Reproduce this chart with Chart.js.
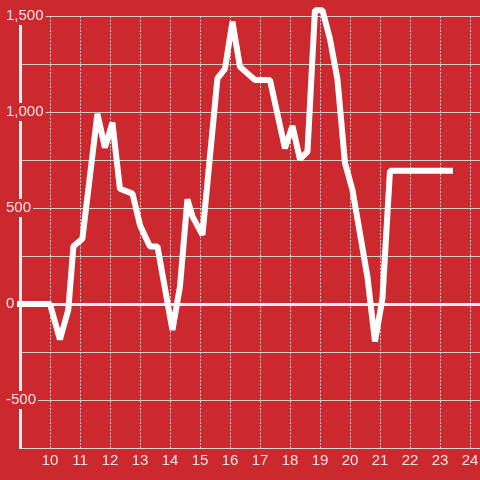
<!DOCTYPE html>
<html>
<head>
<meta charset="utf-8">
<script src="https://cdn.jsdelivr.net/npm/chart.js@4/dist/chart.umd.min.js"></script>
<style>
  html, body { margin: 0; padding: 0; background: #cc292e; }
  canvas { display: block; }
</style>
</head>
<body>
<canvas id="chart" width="480" height="480"></canvas>
<script>
"use strict";

// hours of the day (x) and the value measured at that time (y)
var hours = [9, 10, 10.33, 10.61, 10.78, 11.08, 11.58, 11.83, 12.08, 12.33, 12.75, 13.0, 13.33, 13.58,
             14.08, 14.33, 14.58, 14.75, 15.08, 15.58, 15.83, 16.08, 16.33, 16.83, 17.33, 17.83,
             18.08, 18.33, 18.58, 18.83, 19.08, 19.33, 19.58, 19.83, 20.08, 20.58, 20.83, 21.08,
             21.33, 23.33];
var values = [0, 0, -185, -30, 300, 340, 990, 815, 945, 600, 575, 410, 300, 300,
              -135, 90, 545, 455, 360, 1175, 1225, 1470, 1236, 1167, 1167, 811,
              927, 754, 793, 1530, 1530, 1380, 1170, 735, 594, 140, -195, 30,
              694, 694];

var xMin = 9, xMax = 24.33;
var yMin = -750, yMax = 1500, yStep = 250, yLabelStep = 500;

var red = '#cc292e';

var points = [];
for (var i = 0; i < hours.length; i++) {
    points.push({x: hours[i], y: values[i]});
}

Chart.defaults.font.family = '"Liberation Sans", Arial, sans-serif';
Chart.defaults.font.size = 15;
Chart.defaults.color = 'rgba(255,255,255,0.88)';

new Chart(document.getElementById('chart'), {
    type: 'line',
    data: {
        datasets: [{
            data: points,
            borderColor: '#ffffff',
            borderWidth: 6,
            borderJoinStyle: 'bevel',
            borderCapStyle: 'square',
            pointRadius: 0,
            tension: 0,
            clip: false
        }]
    },
    options: {
        responsive: false,
        animation: false,
        devicePixelRatio: 1,
        layout: {padding: {left: 6, top: 16, right: 0, bottom: 0}},
        plugins: {legend: {display: false}, tooltip: {enabled: false}},
        scales: {
            x: {
                type: 'linear',
                min: xMin,
                max: xMax,
                afterFit: function (scale) {
                    scale.height = 32;
                    scale.paddingLeft = 0;
                    scale.paddingRight = 0;
                },
                grid: {
                    color: '#dddddd',
                    lineWidth: 1,
                    drawTicks: false
                },
                border: {color: '#d8d8d8', width: 1, dash: [2, 1.5]},
                ticks: {
                    stepSize: 1,
                    includeBounds: false,
                    autoSkip: false,
                    maxRotation: 0,
                    padding: 4,
                    callback: function (v) { return v === xMin ? '' : String(v); }
                }
            },
            y: {
                min: yMin,
                max: yMax,
                afterFit: function (scale) {
                    scale.width = 14;
                    scale.paddingTop = 0;
                    scale.paddingBottom = 0;
                },
                grid: {
                    drawTicks: false,
                    color: function (ctx) { return ctx.tick && ctx.tick.value === 0 ? '#eeeeee' : '#cfcfcf'; },
                    lineWidth: function (ctx) { return ctx.tick && ctx.tick.value === 0 ? 3 : 1; }
                },
                border: {color: '#eeeeee', width: 3},
                ticks: {
                    stepSize: yStep,
                    mirror: true,
                    crossAlign: 'near',
                    padding: -14,
                    showLabelBackdrop: true,
                    backdropPadding: {left: 1, right: 2, top: 0, bottom: 0},
                    backdropColor: function (ctx) {
                        return ctx.tick && ctx.tick.value % yLabelStep === 0 && ctx.tick.value !== yMin ? red : 'rgba(0,0,0,0)';
                    },
                    callback: function (v) {
                        if (v % yLabelStep !== 0 || v === yMin) return '';
                        return v.toLocaleString('en-US');
                    }
                }
            }
        }
    }
});
</script>
</body>
</html>
